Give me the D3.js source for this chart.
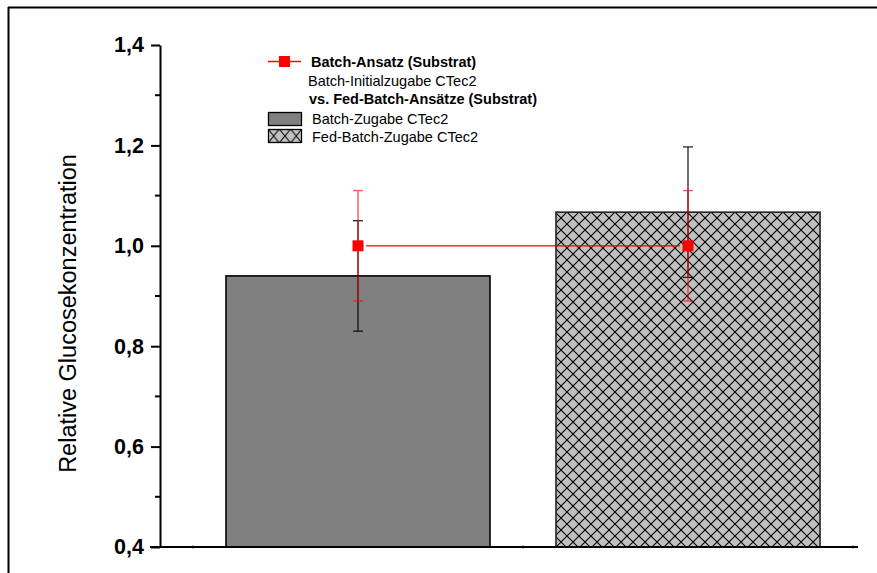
<!DOCTYPE html>
<html><head><meta charset="utf-8">
<script src="https://cdn.jsdelivr.net/npm/d3@7"></script>
<style>body{margin:0;background:#fff}svg{display:block;font-family:Arial,"Liberation Sans",sans-serif}</style>
</head><body><svg id="c" width="877" height="573"></svg>
<script>
const categories = ["Batch-Zugabe CTec2", "Fed-Batch-Zugabe CTec2"];
const barValues = [0.94, 1.067];
const barErrors = [0.11, 0.13];
const substratValues = [1.0, 1.0];
const substratErrors = [0.11, 0.11];
const yTicks = [0.4, 0.6, 0.8, 1.0, 1.2, 1.4];
const yMinorTicks = [0.5, 0.7, 0.9, 1.1, 1.3];
const legendLines = [
  {text: "Batch-Ansatz (Substrat)", bold: true},
  {text: "Batch-Initialzugabe CTec2", bold: false},
  {text: "vs. Fed-Batch-Ansätze (Substrat)", bold: true},
  {text: "Batch-Zugabe CTec2", bold: false},
  {text: "Fed-Batch-Zugabe CTec2", bold: false}
];

const svg = d3.select("#c");
const defs = svg.append("defs");
const pat = defs.append("pattern").attr("id","hatch").attr("patternUnits","userSpaceOnUse")
  .attr("width",12).attr("height",12).attr("x",555).attr("y",212);
pat.append("rect").attr("width",12).attr("height",12).attr("fill","#c0c0c0");
pat.append("path").attr("d","M0,0L12,12M12,0L0,12").attr("stroke","#000").attr("stroke-width",1.1);

const patS = defs.append("pattern").attr("id","hatchS").attr("patternUnits","userSpaceOnUse")
  .attr("width",11.3).attr("height",14).attr("x",268).attr("y",129);
patS.append("rect").attr("width",11.3).attr("height",14).attr("fill","#c0c0c0");
patS.append("path").attr("d","M0,0L11.3,14M11.3,0L0,14").attr("stroke","#000").attr("stroke-width",1);

// frame
svg.append("line").attr("x1",8).attr("x2",877).attr("y1",7.5).attr("y2",7.5).attr("stroke","#000").attr("stroke-width",2);
svg.append("line").attr("x1",8.5).attr("x2",8.5).attr("y1",7).attr("y2",573).attr("stroke","#000").attr("stroke-width",2);

const y = d3.scaleLinear().domain([0.4,1.4]).range([547,45]);
const x = d3.scaleBand().domain(categories).range([193,853]).paddingInner(0.2).paddingOuter(0.1);
const cx = d => x(d) + x.bandwidth()/2;

// bars
svg.selectAll("rect.bar").data(categories).join("rect")
  .attr("x", d => x(d)).attr("width", x.bandwidth())
  .attr("y", (d,i) => y(barValues[i])).attr("height", (d,i) => y(0.4) - y(barValues[i]))
  .attr("fill", (d,i) => i === 0 ? "#808080" : "url(#hatch)")
  .attr("stroke", (d,i) => i === 0 ? "#000" : "#222").attr("stroke-width", 1.6);

// black error bars
const eb = svg.append("g").attr("stroke","#000").attr("stroke-width",1.4).attr("opacity",0.8);
categories.forEach((c,i) => {
  const px = cx(c), t = y(barValues[i]+barErrors[i]), b = y(barValues[i]-barErrors[i]);
  eb.append("line").attr("x1",px).attr("x2",px).attr("y1",t).attr("y2",b);
  eb.append("line").attr("x1",px-5).attr("x2",px+5).attr("y1",t).attr("y2",t);
  eb.append("line").attr("x1",px-5).attr("x2",px+5).attr("y1",b).attr("y2",b);
});

// red series
const rg = svg.append("g");
const re = rg.append("g").attr("stroke","#ff0000").attr("stroke-width",1.4).attr("opacity",0.65);
categories.forEach((c,i) => {
  const px = cx(c), t = y(substratValues[i]+substratErrors[i]), b = y(substratValues[i]-substratErrors[i]);
  re.append("line").attr("x1",px).attr("x2",px).attr("y1",t).attr("y2",b);
  re.append("line").attr("x1",px-5).attr("x2",px+5).attr("y1",t).attr("y2",t);
  re.append("line").attr("x1",px-5).attr("x2",px+5).attr("y1",b).attr("y2",b);
});
for (let i = 0; i < categories.length - 1; i++) {
  rg.append("line").attr("x1",cx(categories[i])+8).attr("x2",cx(categories[i+1])-8)
    .attr("y1",y(substratValues[i])).attr("y2",y(substratValues[i+1]))
    .attr("stroke","#ff0000").attr("stroke-width",1.3);
}
rg.selectAll("rect").data(categories).join("rect")
  .attr("x", d => cx(d)-5.5).attr("y",(d,i) => y(substratValues[i])-5.5)
  .attr("width",11).attr("height",11).attr("fill","#ff0000");

// y axis
const yAxis = svg.append("g").attr("transform","translate(160,0)")
  .call(d3.axisLeft(y).tickValues(yTicks).tickSize(9).tickSizeOuter(0).tickPadding(7)
    .tickFormat(d => d3.format(".1f")(d).replace(".",",")));
yAxis.select(".domain").attr("stroke-width",2);
yAxis.selectAll(".tick line").attr("stroke-width",2);
yAxis.selectAll(".tick text").attr("font-size",21.5).attr("font-weight","bold").attr("fill","#000")
  .attr("font-family",'Arial,"Liberation Sans",sans-serif');
svg.append("g").selectAll("line").data(yMinorTicks).join("line")
  .attr("x1",155).attr("x2",160).attr("y1",d=>y(d)).attr("y2",d=>y(d)).attr("stroke","#000").attr("stroke-width",2);

// x axis
svg.append("line").attr("x1",150).attr("x2",858).attr("y1",y(0.4)).attr("y2",y(0.4)).attr("stroke","#000").attr("stroke-width",2);
const xb = [x.range()[0], ...categories.slice(1).map(c => x(c) - x.step()*x.paddingInner()/2), x.range()[1]];
svg.append("g").selectAll("line").data(xb).join("line")
  .attr("x1",d=>d).attr("x2",d=>d).attr("y1",y(0.4)-1.5).attr("y2",y(0.4)+1.5).attr("stroke","#000").attr("stroke-width",1);

// y axis title
svg.append("text").attr("transform","translate(76,313.5) rotate(-90)").attr("text-anchor","middle")
  .attr("font-size",23.5).attr("fill","#000").text("Relative Glucosekonzentration");

// legend
const lg = svg.append("g").attr("font-size",14.5).attr("fill","#000");
lg.append("line").attr("x1",268).attr("x2",301).attr("y1",61.5).attr("y2",61.5).attr("stroke","#ff0000").attr("stroke-width",1.5);
lg.append("rect").attr("x",279).attr("y",56).attr("width",11).attr("height",11).attr("fill","#ff0000");
const lx = [311, 308, 309, 312, 312];
const ly = [67, 86, 104, 124, 142];
legendLines.forEach((l,i) => {
  lg.append("text").attr("x",lx[i]).attr("y",ly[i]).attr("font-weight", l.bold ? "bold" : "normal").text(l.text);
});
lg.append("rect").attr("x",268.5).attr("y",112.5).attr("width",33).attr("height",13).attr("fill","#808080").attr("stroke","#000").attr("stroke-width",1.3);
lg.append("rect").attr("x",268.5).attr("y",129.5).attr("width",33).attr("height",13).attr("fill","url(#hatchS)").attr("stroke","#000").attr("stroke-width",1.3);
</script></body></html>
